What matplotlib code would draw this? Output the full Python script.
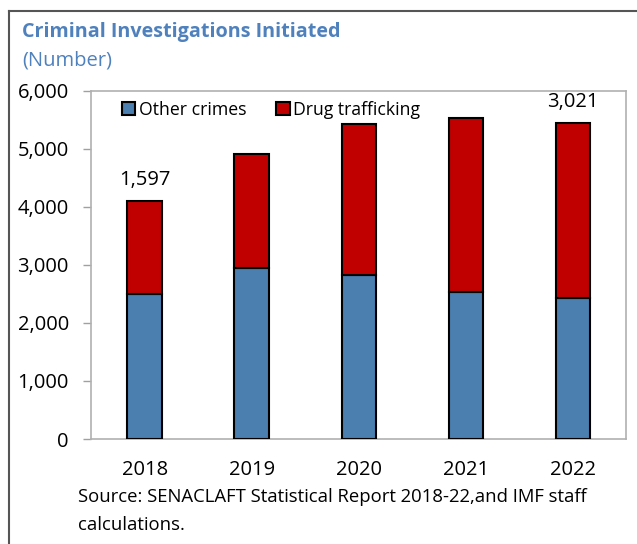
import matplotlib
matplotlib.use('Agg')
import matplotlib.pyplot as plt
from matplotlib.lines import Line2D
from matplotlib.patches import Patch
import numpy as np

plt.rcParams['font.family'] = ['Open Sans', 'DejaVu Sans']

years = ['2018', '2019', '2020', '2021', '2022']
other_crimes = [2500, 2950, 2830, 2530, 2430]
drug_trafficking = [1597, 1960, 2600, 3010, 3021]

blue = '#4a7fb0'
red = '#c00000'
title_blue = '#4f81bd'

fig = plt.figure(figsize=(6.37, 5.44), dpi=100)
ax = fig.add_axes([0.143, 0.193, 0.840, 0.640])

x = np.arange(len(years))
w = 0.32
ax.bar(x, other_crimes, w, color=blue, edgecolor='black', linewidth=1.5, zorder=3)
ax.bar(x, drug_trafficking, w, bottom=other_crimes, color=red, edgecolor='black',
       linewidth=1.5, zorder=3)

# value labels on the first and last years
for i in [0, len(years) - 1]:
    top = other_crimes[i] + drug_trafficking[i]
    ax.annotate(f'{drug_trafficking[i]:,}', (x[i], top), xytext=(0, 8),
                textcoords='offset points', ha='center', va='bottom', fontsize=14.5)

ax.set_xlim(-0.5, len(years) - 0.5)
ax.set_ylim(0, 6000)
ax.set_yticks(range(0, 6001, 1000))
ax.set_yticklabels([f'{v:,}' for v in range(0, 6001, 1000)])
ax.set_xticks(x)
ax.set_xticklabels(years)
ax.tick_params(axis='y', length=6, color='#a0a0a0', width=1, labelsize=14.5, pad=10)
ax.tick_params(axis='x', length=0, labelsize=14.5, pad=15)
for s in ax.spines.values():
    s.set_color('#b0b0b0')
    s.set_linewidth(1.2)

handles = [Patch(facecolor=blue, edgecolor='black', linewidth=1.5, label='Other crimes'),
           Patch(facecolor=red, edgecolor='black', linewidth=1.5, label='Drug trafficking')]
ax.legend(handles=handles, loc='upper left', bbox_to_anchor=(0.04, 1.0), ncol=2,
          frameon=False, fontsize=12.7, handlelength=0.75, handleheight=0.75,
          handletextpad=0.2, columnspacing=1.7, borderaxespad=0.15)

fig.text(0.035, 0.942, 'Criminal Investigations Initiated', fontsize=14.2,
         fontweight='bold', color=title_blue, va='center')
fig.text(0.035, 0.889, '(Number)', fontsize=14.5, color=title_blue, va='center')
fig.text(0.122, 0.086, 'Source: SENACLAFT Statistical Report 2018-22,and IMF staff',
         fontsize=13.3, va='center')
fig.text(0.122, 0.035, 'calculations.', fontsize=13.3, va='center')

# outer frame
fig.add_artist(Line2D([0.014, 0.014], [0, 0.980], color='#555555', linewidth=1.5))
fig.add_artist(Line2D([0.014, 1.0], [0.980, 0.980], color='#555555', linewidth=1.5))

fig.savefig('out.png', dpi=100)
